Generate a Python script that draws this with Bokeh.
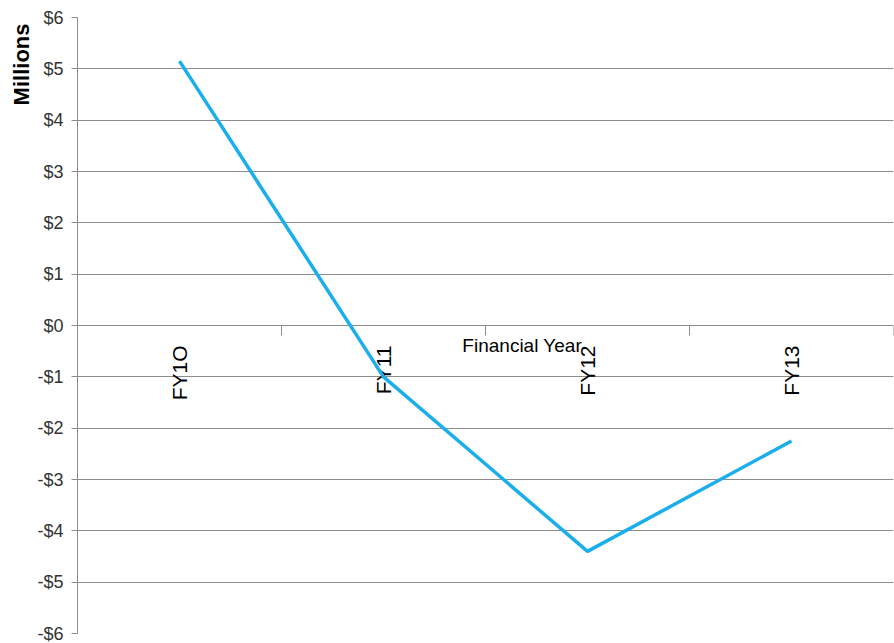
import math
from bokeh.plotting import figure
from bokeh.models import Range1d, FixedTicker, Label, Title
from bokeh.embed import file_html
from bokeh.resources import INLINE

categories = ["FY1O", "FY11", "FY12", "FY13"]
values = [5.15, -1.0, -4.4, -2.25]
y_ticks = [-6, -5, -4, -3, -2, -1, 0, 1, 2, 3, 4, 5, 6]
y_tick_labels = ["-$6", "-$5", "-$4", "-$3", "-$2", "-$1", "$0", "$1", "$2", "$3", "$4", "$5", "$6"]
x_title = "Financial Year"
y_title = "Millions"

FONT = "Liberation Sans"
GRID = "#8c8c8c"

xs = list(range(1, len(categories) + 1))
bounds = [i + 0.5 for i in xs]

p = figure(width=894, height=643, output_backend="svg", toolbar_location=None,
           x_range=Range1d(0.5, len(categories) + 0.5), y_range=Range1d(-6, 6),
           x_axis_location=None, min_border_left=77, min_border_right=1,
           min_border_top=17, min_border_bottom=10)
p.outline_line_color = None
p.xgrid.visible = False
p.ygrid.ticker = FixedTicker(ticks=y_ticks)
p.ygrid.grid_line_color = GRID
p.ygrid.grid_line_width = 1

ya = p.yaxis[0]
ya.ticker = FixedTicker(ticks=y_ticks, minor_ticks=[])
ya.major_label_overrides = {v: l for v, l in zip(y_ticks, y_tick_labels)}
ya.axis_line_color = GRID
ya.major_tick_line_color = GRID
ya.major_tick_out = 6
ya.major_tick_in = 0
ya.minor_tick_line_color = None
ya.major_label_standoff = 8
ya.major_label_text_font = FONT
ya.major_label_text_font_size = "18px"
ya.major_label_text_color = "#333333"

p.add_layout(Title(text=y_title, align="right", offset=6, standoff=2, text_font=FONT,
                   text_font_size="22px", text_font_style="bold", text_color="black"), "left")

# category boundary ticks on the zero line
p.ray(x=bounds, y=[0] * len(bounds), length=10, length_units="screen",
      angle=-math.pi / 2, line_color=GRID, line_width=1)

# category labels
p.text(x=xs, y=[0] * len(xs), text=categories, angle=math.pi / 2,
       text_align="right", text_baseline="middle", y_offset=20,
       text_font_size="21px", text_color="black",
       text_font={"value": FONT})

p.line(x=xs, y=values, line_color="#1aaeea", line_width=3.5)

p.add_layout(Label(x=2.68, y=-0.38, text=x_title, text_align="center", text_baseline="middle",
                   text_font=FONT, text_font_size="19px", text_color="black"))

open("out.html", "w").write(file_html(p, INLINE))
